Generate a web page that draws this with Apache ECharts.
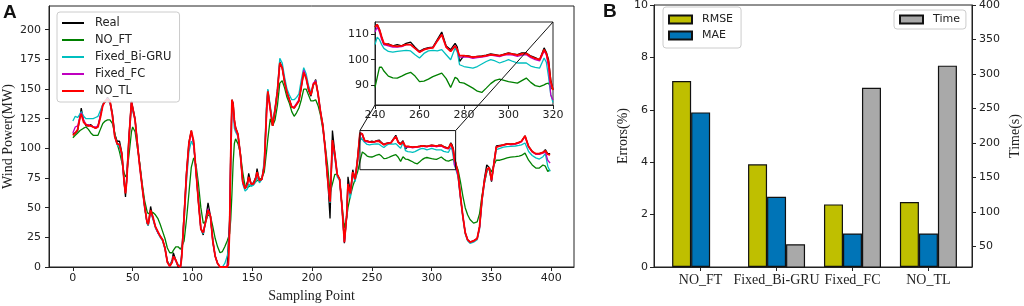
<!DOCTYPE html>
<html>
<head>
<meta charset="utf-8">
<title>Wind power prediction - transfer learning comparison</title>
<script src="https://cdn.jsdelivr.net/npm/echarts@6.0.0/dist/echarts.min.js"></script>
<style>
html, body { margin: 0; padding: 0; background: #fff; }
#chart { width: 1024px; height: 306px; }
</style>
</head>
<body>
<div id="chart"></div>
<script>
// panel A: values at these sampling points
const samplePoints = [
  0, 2, 4, 6, 7, 9, 11, 13, 15, 17, 19, 21, 23, 25, 27, 29, 31, 33, 35, 37,
  39, 41, 43, 44, 45, 47, 49, 50, 52, 54, 56, 58, 60, 62, 63, 65, 67, 69, 71, 73,
  75, 77, 79, 81, 83, 84, 86, 88, 90, 91, 93, 95, 97, 99, 101, 103, 105, 107, 109, 111,
  113, 115, 117, 119, 121, 123, 125, 127, 129, 130, 131, 132, 133, 134, 135, 136, 138, 140, 142, 144,
  146, 147, 149, 151, 153, 154, 156, 158, 160, 162, 163, 165, 167, 169, 171, 173, 175, 177, 179, 181,
  183, 185, 187, 189, 191, 193, 195, 197, 199, 201, 203, 205, 207, 209, 211, 213, 215, 217, 219, 221,
  223, 225, 227, 229, 230, 232, 234, 236, 238, 240,
  241, 242, 243, 244, 246, 248, 250, 252, 254, 256, 258, 260, 262, 264, 266, 268, 270, 272, 274, 276,
  277, 278, 280, 282, 284, 286, 288, 290, 292, 294, 296, 298, 300, 302, 304, 306, 308, 310, 312, 314,
  316, 317, 318, 319,
  320, 322, 324, 326, 328, 330, 332, 335, 338, 340, 342, 344, 346, 348, 350, 352, 354, 357, 360, 363,
  366, 370, 373, 375, 378, 381, 384, 387, 390, 393, 395, 397, 399
]
const realPower = [
  112, 113, 115, 127, 134, 123, 119, 119, 120, 118, 117, 119, 127, 137, 139, 143, 140, 130, 112, 106,
  106, 96, 70, 59, 75, 112, 140, 139, 125, 104, 85, 68, 51, 37, 35, 51, 41, 34, 29, 26,
  23, 16, 5, 1, 6, 12, 6, 0, 0, 12, 45, 80, 105, 115, 104, 80, 54, 32, 27, 40,
  54, 43, 21, 9, 3, 0, 0, 0, 0, 1, 40, 100, 141, 138, 124, 118, 112, 96, 72, 66,
  72, 79, 70, 71, 76, 83, 72, 74, 86, 135, 149, 134, 119, 133, 148, 173, 168, 156, 147, 141,
  135, 134, 137, 140, 152, 164, 160, 149, 144, 153, 158, 145, 131, 120, 100, 75, 41, 115, 96, 78,
  74, 51, 20, 43, 76, 62, 82, 74, 92, 113,
  114, 112, 109, 106, 106.3, 105.5, 106, 105.5, 106.5, 107, 105, 103.3, 104.3, 104.8, 105, 108, 111, 105.5, 104, 106.5,
  105, 99.3, 101.6, 101.5, 101, 101.3, 101.5, 101.8, 102.3, 102, 101.6, 102.2, 102.7, 102.3, 102, 102.7, 102.7, 101.5, 100.8, 100,
  104.7, 103, 100, 92,
  88, 79, 60, 43, 29, 23, 21, 22, 24, 34, 57, 74, 86, 84, 72, 88, 102, 102.5, 103, 104,
  103.5, 104, 105, 106, 110.6, 101.7, 97.4, 95.5, 95.5, 96.6, 99, 95.5, 95.5
]
const noFT = [
  109, 111, 113, 115, 116, 117, 118, 116, 113, 111, 111, 111, 116, 121, 123, 124, 124, 121, 113, 104,
  97, 88, 79, 76, 78, 95, 114, 118, 114, 100, 87, 70, 56, 47, 45, 45, 46, 44, 41, 36,
  30, 24, 16, 12, 12, 14, 17, 17, 15, 15, 22, 40, 62, 84, 92, 86, 70, 50, 37, 38,
  44, 43, 34, 24, 17, 12, 13, 17, 22, 25, 28, 40, 62, 88, 104, 108, 104, 96, 80, 68,
  67, 68, 69, 70, 72, 73, 74, 75, 80, 98, 108, 125, 119, 124, 136, 155, 157, 151, 143, 138,
  131, 127, 130, 134, 141, 150, 150, 145, 140, 140, 141, 136, 128, 116, 102, 85, 62, 70, 78, 78,
  74, 52, 33, 42, 50, 60, 68, 74, 80, 89,
  93, 97, 97, 95.5, 93.5, 92.8, 92.7, 93.5, 94.4, 95, 93.5, 91.3, 91.5, 92.3, 93.3, 94, 94.7, 92.5, 89, 93,
  92.5, 91, 90.7, 89.7, 88.7, 87.5, 87, 88.7, 90.5, 91.8, 92.3, 91.8, 91.3, 91, 90.7, 91.7, 92.7, 91, 89.7, 89.3,
  90, 90.5, 90.7, 89,
  88, 82, 72, 60, 50, 44, 40, 37, 38, 45, 60, 71, 80, 84, 80, 86, 90, 90, 91, 92,
  92.7, 93, 93.5, 94, 96, 90, 86, 83.4, 83.4, 86, 85, 80.6, 82
]
const fixedBiGRU = [
  123, 127, 126, 129, 131, 127, 125, 125, 125, 125, 126, 127, 132, 137, 140, 141, 138, 128, 110, 103,
  101, 92, 70, 66, 74, 108, 135, 136, 124, 104, 84, 67, 50, 37, 35, 46, 40, 33, 29, 25,
  22, 15, 4, 2, 5, 9, 5, 2, 1, 8, 38, 72, 97, 106, 102, 82, 58, 33, 28, 38,
  47, 42, 23, 9, 3, 0, 0, 3, 9, 14, 30, 80, 135, 132, 117, 114, 110, 95, 70, 64,
  66, 70, 68, 69, 72, 76, 71, 74, 90, 140, 150, 136, 122, 134, 150, 176, 172, 160, 150, 145,
  141, 141, 143, 146, 158, 168, 163, 153, 147, 153, 157, 146, 131, 118, 98, 74, 54, 100, 92, 76,
  73, 50, 22, 45, 68, 58, 78, 72, 88, 106,
  109, 108, 106, 104.5, 103.3, 103, 103.3, 103.5, 103.7, 103.5, 102, 100.7, 102.5, 103.5, 103.7, 103.5, 104, 102, 100, 104.7,
  103, 98, 97.3, 97, 96.7, 97.3, 98.3, 99.3, 100, 99.5, 98.7, 99.3, 100, 99.3, 98.7, 98.7, 98.7, 97.5, 97, 96.7,
  100.7, 99, 93.3, 86,
  83, 76, 58, 42, 28, 22, 20, 21, 23, 32, 55, 70, 80, 84, 74, 86, 99, 100, 101, 101.5,
  101.7, 102, 102.5, 103, 104.5, 97.4, 94, 92, 91, 93, 95.5, 85, 80.6
]
const fixedFC = [
  113, 118, 119, 127, 130, 124, 120, 120, 119, 118, 118, 119, 128, 136, 140, 142, 139, 128, 110, 104,
  103, 94, 70, 63, 72, 110, 139, 138, 124, 103, 84, 67, 51, 38, 36, 47, 41, 34, 29, 26,
  23, 16, 4, 0.5, 4, 9, 5, 1, 0, 10, 42, 78, 103, 114, 104, 80, 55, 32, 29, 38,
  49, 43, 22, 9, 3, 0, 0, 0, 1, 4, 35, 95, 140, 135, 122, 116, 111, 95, 71, 66,
  70, 75, 70, 70, 75, 79, 73, 74, 85, 130, 147, 133, 120, 132, 148, 172, 168, 157, 147, 141,
  135, 135, 138, 141, 153, 166, 160, 151, 145, 155, 157, 146, 131, 118, 99, 74, 55, 105, 94, 78,
  74, 51, 21, 45, 70, 62, 80, 74, 90, 111,
  113, 111, 108, 106, 105.5, 105, 105, 105.2, 106, 106, 104.5, 103, 104, 104.5, 104.8, 107.5, 110, 105, 103.5, 105.5,
  104, 101, 101, 101, 100.5, 100.8, 101, 101.3, 101.8, 101.5, 101.2, 101.8, 102, 101.8, 101.3, 101.8, 102, 100.8, 100, 99.5,
  103.5, 102, 97, 86,
  84, 77, 59, 43, 29, 23, 21, 22, 24, 33, 56, 72, 82, 84, 73, 87, 101, 102, 102.5, 103.5,
  103, 103.5, 104.5, 105.5, 110, 101, 97, 95, 95, 96, 97, 90, 87.6
]
const noTL = [
  111, 113, 116, 126, 129, 122, 120, 119, 119, 118, 117, 118, 126, 136, 140, 141, 140, 128, 110, 104,
  103, 95, 70, 62, 72, 110, 139, 139, 124, 103, 84, 67, 51, 38, 36, 48, 42, 34, 30, 26,
  23, 16, 4, 0.5, 4, 9, 6, 1, 0, 8, 42, 78, 104, 115, 106, 80, 55, 32, 29, 38,
  48, 43, 22, 9, 3, 0, 0, 0, 0, 2, 30, 95, 141, 137, 124, 117, 112, 95, 72, 66,
  70, 76, 70, 70, 75, 80, 73, 74, 85, 132, 148, 133, 119, 132, 148, 172, 168, 156, 147, 141,
  135, 134, 137, 140, 152, 164, 159, 150, 145, 154, 156, 146, 131, 119, 99, 74, 55, 107, 95, 78,
  74, 51, 21, 45, 70, 62, 80, 74, 90, 113,
  114, 112, 109, 106.5, 106, 105.5, 105.3, 105.5, 106, 106, 104.5, 103, 104, 104.5, 104.7, 107.5, 110, 105, 103.3, 105.5,
  104, 101.6, 101.6, 101.3, 101, 101.2, 101.3, 101.6, 102, 101.8, 101.6, 102, 102.5, 102.2, 101.8, 102.3, 102.5, 101.3, 100.5, 100,
  104, 102.5, 99, 91,
  88, 79, 60, 43, 29, 23, 21, 22, 24, 34, 57, 72, 82, 84, 73, 87, 101, 102, 103, 103.5,
  103.5, 104, 105, 106, 110.5, 101.5, 97.4, 95.5, 95.5, 96.6, 98, 95, 94.6
]

const xTicksA = [0, 50, 100, 150, 200, 250, 300, 350, 400]
const yTicksA = [0, 25, 50, 75, 100, 125, 150, 175, 200]
const insetXRange = [240, 320]
const insetYRange = [82, 115]
const insetXTicks = [240, 260, 280, 300, 320]
const insetYTicks = [90, 100, 110]

// panel B
const models = ['NO_FT', 'Fixed_Bi-GRU', 'Fixed_FC', 'NO_TL']
const rmse = [7.1, 3.92, 2.39, 2.48]
const mae = [5.9, 2.68, 1.28, 1.28]
const timeCost = [null, 53, 280, 312]
const errorTicks = [0, 2, 4, 6, 8, 10]
const timeTicks = [50, 100, 150, 200, 250, 300, 350, 400]

const sans = 'DejaVu Sans'
const serif = 'Liberation Serif'
const ink = '#222'

const lines = [
  { name: 'Real', values: realPower, color: '#000000', width: 1.3 },
  { name: 'NO_FT', values: noFT, color: '#008000', width: 1.3 },
  { name: 'Fixed_Bi-GRU', values: fixedBiGRU, color: '#00bfbf', width: 1.3 },
  { name: 'Fixed_FC', values: fixedFC, color: '#bf00bf', width: 1.3 },
  { name: 'NO_TL', values: noTL, color: '#ff0000', width: 1.8 }
]

// symbol 'line' keeps the legend icon a plain stroke; showSymbol hides it on the curve
const lineSeries = (grid, inRange) => lines.map(l => ({
  name: l.name,
  type: 'line',
  xAxisIndex: grid,
  yAxisIndex: grid,
  symbol: 'line',
  showSymbol: false,
  clip: true,
  lineStyle: { color: l.color, width: l.width },
  itemStyle: { color: l.color, borderColor: l.color, borderWidth: l.width },
  data: samplePoints.map((s, i) => [s, l.values[i]]).filter(p => inRange(p[0]))
}))

const valueAxisBase = (extra) => Object.assign({
  type: 'value',
  axisLine: { show: true, onZero: false, lineStyle: { color: ink, width: 1 } },
  axisTick: { show: true, length: 4, lineStyle: { color: ink } },
  axisLabel: { fontFamily: sans, fontSize: 11, color: ink },
  splitLine: { show: false }
}, extra)

const gridBase = { show: true, borderColor: ink, borderWidth: 1, containLabel: false, outerBoundsMode: 'none' }

let chart = echarts.init(document.getElementById('chart'), null, { renderer: 'canvas' })

let option = {
  animation: false,
  backgroundColor: '#fff',
  title: [
    { text: 'A', left: 3, top: 3, padding: 0, textStyle: { fontFamily: 'Liberation Sans', fontWeight: 'bold', fontSize: 19, color: '#111' } },
    { text: 'B', left: 603, top: 2, padding: 0, textStyle: { fontFamily: 'Liberation Sans', fontWeight: 'bold', fontSize: 19, color: '#111' } }
  ],
  grid: [
    Object.assign({ left: 49, top: 6, width: 525, height: 261, backgroundColor: 'transparent' }, gridBase),
    Object.assign({ left: 375, top: 22, width: 178, height: 83, backgroundColor: '#fff' }, gridBase),
    Object.assign({ left: 654, top: 5, width: 318, height: 262, backgroundColor: 'transparent' }, gridBase)
  ],
  legend: [
    {
      data: lines.map(l => l.name),
      orient: 'vertical', left: 57, top: 12,
      itemWidth: 22, itemHeight: 12, itemGap: 5,
      padding: [5, 8, 5, 4],
      backgroundColor: 'rgba(255,255,255,0.85)', borderColor: '#ccc', borderWidth: 1, borderRadius: 3,
      selectedMode: false,
      textStyle: { fontFamily: sans, fontSize: 11.5, color: ink, padding: [0, 0, 0, 6] }
    },
    {
      data: ['RMSE', 'MAE'],
      orient: 'vertical', left: 663, top: 7,
      icon: 'rect', itemWidth: 23, itemHeight: 8, itemGap: 5,
      padding: [7, 8, 7, 5],
      backgroundColor: 'rgba(255,255,255,0.85)', borderColor: '#ccc', borderWidth: 1, borderRadius: 3,
      selectedMode: false,
      textStyle: { fontFamily: sans, fontSize: 11, color: ink, padding: [0, 0, 0, 5] }
    },
    {
      data: ['Time'],
      orient: 'vertical', left: 894, top: 10,
      icon: 'rect', itemWidth: 23, itemHeight: 8,
      padding: [4, 6, 4, 5],
      backgroundColor: 'rgba(255,255,255,0.85)', borderColor: '#ccc', borderWidth: 1, borderRadius: 3,
      selectedMode: false,
      textStyle: { fontFamily: sans, fontSize: 11, color: ink, padding: [0, 0, 0, 5] }
    }
  ],
  xAxis: [
    valueAxisBase({
      gridIndex: 0, min: -19.95, max: 418.95,
      axisTick: { show: true, length: 4, lineStyle: { color: ink }, customValues: xTicksA },
      axisLabel: { fontFamily: sans, fontSize: 11, color: ink, margin: 6, customValues: xTicksA },
      name: 'Sampling Point', nameLocation: 'middle', nameGap: 16,
      nameTextStyle: { fontFamily: serif, fontSize: 14, color: ink }
    }),
    valueAxisBase({
      gridIndex: 1, min: insetXRange[0], max: insetXRange[1],
      axisTick: { show: true, length: 4, lineStyle: { color: ink }, customValues: insetXTicks },
      axisLabel: { fontFamily: sans, fontSize: 11, color: ink, margin: 5, customValues: insetXTicks }
    }),
    valueAxisBase({
      gridIndex: 2, min: -0.614, max: 3.574,
      axisTick: { show: true, length: 4, lineStyle: { color: ink }, customValues: [0, 1, 2, 3] },
      axisLabel: {
        fontFamily: serif, fontSize: 14, color: ink, margin: 6, customValues: [0, 1, 2, 3],
        formatter: v => models[Math.round(v)]
      }
    })
  ],
  yAxis: [
    valueAxisBase({
      gridIndex: 0, min: 0, max: 220,
      axisTick: { show: true, length: 4, lineStyle: { color: ink }, customValues: yTicksA },
      axisLabel: { fontFamily: sans, fontSize: 11, color: ink, customValues: yTicksA },
      name: 'Wind Power(MW)', nameLocation: 'middle', nameGap: 34, nameMoveOverlap: false,
      nameTextStyle: { fontFamily: serif, fontSize: 14, color: ink }
    }),
    valueAxisBase({
      gridIndex: 1, min: insetYRange[0], max: insetYRange[1],
      axisTick: { show: true, length: 4, lineStyle: { color: ink }, customValues: insetYTicks },
      axisLabel: { fontFamily: sans, fontSize: 11, color: ink, margin: 6, customValues: insetYTicks }
    }),
    valueAxisBase({
      gridIndex: 2, min: 0, max: 10,
      axisTick: { show: true, length: 4, lineStyle: { color: ink }, customValues: errorTicks },
      axisLabel: { fontFamily: sans, fontSize: 11, color: ink, margin: 6, customValues: errorTicks },
      name: 'Errors(%)', nameLocation: 'middle', nameGap: 24,
      nameTextStyle: { fontFamily: serif, fontSize: 14, color: ink }
    }),
    valueAxisBase({
      gridIndex: 2, position: 'right', min: 20, max: 400,
      axisTick: { show: true, length: 4, lineStyle: { color: ink }, customValues: timeTicks },
      axisLabel: { fontFamily: sans, fontSize: 11, color: ink, margin: 7, customValues: timeTicks },
      name: 'Time(s)', nameLocation: 'middle', nameGap: 36,
      nameTextStyle: { fontFamily: serif, fontSize: 14, color: ink }
    })
  ],
  series: [
    ...lineSeries(0, () => true),
    ...lineSeries(1, s => s >= insetXRange[0] && s <= insetXRange[1]),
    {
      name: 'RMSE', type: 'bar', xAxisIndex: 2, yAxisIndex: 2,
      barWidth: 19, barGap: '0%', clip: true,
      itemStyle: { color: '#bfbf00', borderColor: '#111', borderWidth: 1.2 },
      data: models.map((m, i) => [i, rmse[i]])
    },
    {
      name: 'MAE', type: 'bar', xAxisIndex: 2, yAxisIndex: 2,
      barWidth: 19, barGap: '0%', clip: true,
      itemStyle: { color: '#0074b7', borderColor: '#111', borderWidth: 1.2 },
      data: models.map((m, i) => [i, mae[i]])
    },
    {
      name: 'Time', type: 'bar', xAxisIndex: 2, yAxisIndex: 3,
      barWidth: 19, barGap: '0%', clip: true,
      itemStyle: { color: '#a9a9a9', borderColor: '#111', borderWidth: 1.2 },
      data: models.map((m, i) => [i, timeCost[i]]).filter(p => p[1] != null)
    }
  ]
}

chart.setOption(option)

// zoom box on panel A and the two lines joining it to the inset
let boxTL = chart.convertToPixel({ gridIndex: 0 }, [insetXRange[0], insetYRange[1]])
let boxBR = chart.convertToPixel({ gridIndex: 0 }, [insetXRange[1], insetYRange[0]])
let insetBL = chart.convertToPixel({ gridIndex: 1 }, [insetXRange[0], insetYRange[0]])
let insetTR = chart.convertToPixel({ gridIndex: 1 }, [insetXRange[1], insetYRange[1]])

chart.setOption({
  graphic: [
    {
      type: 'rect', z: 20, silent: true,
      shape: { x: boxTL[0], y: boxTL[1], width: boxBR[0] - boxTL[0], height: boxBR[1] - boxTL[1] },
      style: { fill: 'none', stroke: '#111', lineWidth: 1 }
    },
    {
      type: 'line', z: 20, silent: true,
      shape: { x1: boxTL[0], y1: boxTL[1], x2: insetBL[0], y2: insetBL[1] },
      style: { stroke: '#111', lineWidth: 1 }
    },
    {
      type: 'line', z: 20, silent: true,
      shape: { x1: boxBR[0], y1: boxTL[1], x2: insetTR[0], y2: insetTR[1] },
      style: { stroke: '#111', lineWidth: 1 }
    }
  ]
})
</script>
</body>
</html>
